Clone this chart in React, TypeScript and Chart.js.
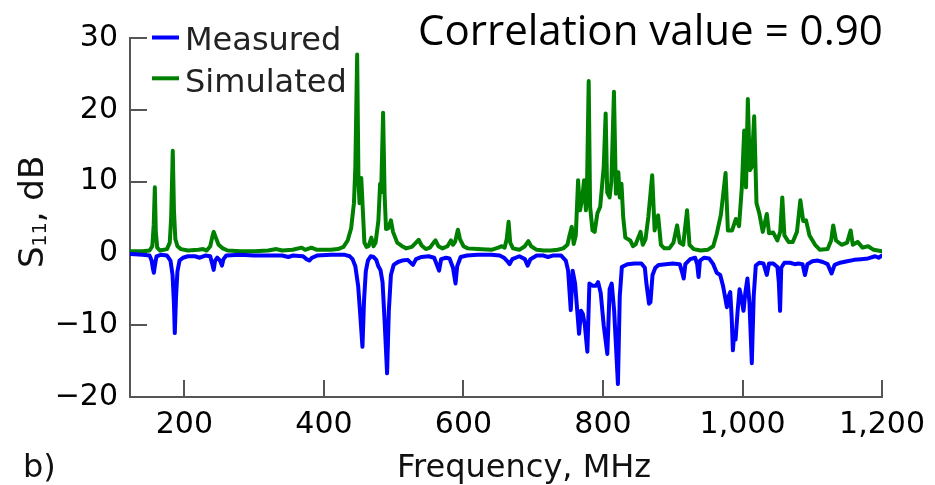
import React, { useEffect, useRef } from "react";
import { Chart, registerables } from "chart.js";

Chart.register(...registerables);

// ---------- data ----------
const seriesLabels = ["Measured", "Simulated"];
const xTickValues = [200, 400, 600, 800, 1000, 1200];
const yTickValues = [-20, -10, 0, 10, 20, 30];

const measuredFreq = [
  123, 140, 150, 153, 155, 156.2, 158, 160, 166, 175, 180, 183, 185, 186.2, 188, 190, 193, 198, 205, 215,
  222, 230, 237, 240, 241.9, 244, 247, 251, 253.8, 256, 260, 280, 300, 320, 340, 349, 355, 370, 375, 379,
  383, 390, 410, 430, 437, 441, 445, 449, 452, 455.2, 457.5, 460, 463, 467, 471, 475, 478, 481, 484, 487,
  490.5, 493, 496, 500, 506, 512, 520, 527.6, 532, 540, 550, 558, 565, 568, 575, 580, 585, 588.6, 591, 596,
  605, 620, 640, 652, 658, 663, 666, 670, 680, 688, 692, 696, 705, 715, 721, 728, 740, 746.7, 750, 753.8,
  756.5, 760, 765.7, 768.5, 771, 774, 777.6, 780.5, 785, 790, 793, 796.7, 801, 806.2, 809.5, 812.5, 816, 821.4, 824, 827,
  835, 845, 855, 860, 862, 866, 868, 871, 875, 880, 890, 900, 910, 913, 915.7, 918, 925, 932, 935, 937,
  939, 945, 952, 958, 963, 968, 972, 977.6, 980, 982.4, 984.5, 986.2, 988, 990, 993, 995.7, 998, 1001.4, 1004, 1007,
  1010, 1013.3, 1016, 1019, 1024, 1030, 1034.8, 1038, 1044, 1050, 1052, 1053.8, 1055.5, 1060, 1068, 1075, 1080, 1086, 1089.5, 1093,
  1100, 1108, 1115, 1122, 1127.6, 1132, 1140, 1150, 1160, 1170, 1180, 1190, 1195, 1200,
];
const measuredDb = [
  -0.1, -0.2, -0.3, -1.0, -2.2, -2.7, -1.5, -0.4, -0.2, -0.3, -1.0, -3.0, -7.0, -11.1, -6.0, -2.5, -1.0, -0.6, -0.4, -0.4,
  -0.6, -0.3, -0.4, -1.5, -2.3, -1.0, -0.6, -1.0, -1.7, -0.8, -0.3, -0.2, -0.3, -0.3, -0.3, -0.5, -0.3, -0.4, -0.8, -1.0,
  -0.6, -0.3, -0.2, -0.2, -0.4, -0.8, -1.8, -4.5, -8.5, -13.0, -6.5, -2.5, -1.0, -0.4, -0.5, -0.9, -1.8, -2.3, -4.0, -9.5,
  -16.7, -8.0, -3.0, -1.6, -1.2, -1.0, -0.9, -1.6, -0.8, -0.5, -0.4, -0.6, -2.4, -0.8, -0.6, -0.7, -2.0, -4.2, -1.8, -0.5,
  -0.3, -0.2, -0.2, -0.3, -0.6, -1.1, -1.5, -0.8, -0.4, -0.8, -1.7, -0.8, -0.3, -0.3, -0.5, -0.3, -0.3, -1.0, -2.4, -7.9,
  -2.4, -4.2, -11.2, -8.0, -8.4, -10.0, -13.7, -4.2, -4.5, -4.5, -4.0, -5.5, -10.0, -14.0, -5.0, -4.2, -8.0, -18.2, -6.0, -1.9,
  -1.5, -1.4, -1.4, -2.0, -4.0, -7.0, -6.8, -3.0, -2.0, -1.6, -1.5, -1.4, -1.5, -2.5, -3.5, -1.5, -0.8, -0.6, -1.5, -3.3,
  -1.0, -0.6, -0.7, -1.5, -2.7, -3.0, -4.5, -7.5, -6.0, -5.4, -9.0, -13.5, -11.0, -12.0, -8.0, -5.0, -6.0, -8.0, -5.5, -3.5,
  -7.0, -15.3, -6.0, -1.7, -1.3, -1.4, -3.0, -1.4, -1.4, -1.9, -4.0, -8.0, -2.0, -1.3, -1.3, -1.5, -1.4, -1.5, -3.0, -1.5,
  -1.1, -1.0, -1.2, -1.5, -2.8, -1.6, -1.3, -1.1, -0.9, -0.8, -0.7, -0.4, -0.6, -0.3,
];

const simulatedFreq = [
  123, 140, 150, 154, 156, 157.6, 159, 161, 165, 175, 179, 181, 183.3, 185, 187, 190, 195, 205, 220, 226.7,
  232, 237, 240, 242, 245, 249, 255, 262, 280, 300, 320, 332, 340, 355, 368, 373, 382, 390, 397, 410,
  420, 428, 434, 439, 443, 445, 447.6, 449.5, 451, 453.5, 455.5, 458, 461, 464, 468, 471, 474, 478, 480.5, 482,
  484.8, 487, 489, 492, 496, 499, 505, 512, 518, 526, 532, 535.7, 540, 546, 552, 558, 560, 564, 570, 577,
  582, 585, 588, 592, 595, 600, 606, 620, 640, 650, 655, 659, 662, 664.7, 667, 671, 680, 688, 693, 697,
  705, 715, 725, 735, 743, 749, 752, 755.2, 758, 761, 764.3, 767, 770, 772.9, 775.5, 777, 779.5, 781.5, 785, 788,
  792, 796, 801, 803.8, 806, 809.5, 812, 815.7, 818.5, 822, 824, 826.5, 829, 832, 839, 843, 847, 853.8, 857, 861,
  865, 870.5, 874, 879, 883, 888, 895, 901, 906.2, 910, 915, 920.5, 924, 930, 940, 950, 958, 963, 969, 975.7,
  979, 985, 990.5, 995, 999, 1002.4, 1005, 1007.6, 1010.5, 1013, 1016.7, 1020, 1024, 1029, 1034.8, 1038, 1044, 1050, 1054, 1057,
  1060, 1066, 1072, 1078, 1082.9, 1087, 1091, 1096, 1104, 1111, 1122, 1127, 1130, 1134, 1142, 1150, 1155, 1158, 1165, 1172,
  1180, 1188, 1200,
];
const simulatedDb = [
  0.3, 0.3, 0.4, 1.0, 4.0, 9.2, 3.0, 0.8, 0.4, 0.6, 1.5, 5.0, 14.3, 6.0, 2.0, 1.0, 0.6, 0.4, 0.5, 0.6,
  0.4, 1.0, 2.3, 3.0, 2.2, 1.2, 0.7, 0.4, 0.3, 0.3, 0.4, 0.6, 0.4, 0.5, 0.8, 0.5, 0.8, 0.5, 0.5, 0.5,
  0.6, 0.9, 1.8, 3.5, 7.0, 12.0, 27.7, 10.0, 7.0, 10.5, 6.5, 1.5, 0.9, 1.0, 2.2, 1.0, 1.5, 4.5, 9.7, 8.5,
  19.6, 8.0, 3.4, 3.5, 4.6, 3.0, 1.5, 1.0, 0.7, 0.9, 1.5, 1.9, 1.1, 0.6, 0.8, 1.6, 1.8, 1.0, 0.7, 1.0,
  1.8, 1.2, 1.6, 3.3, 2.0, 1.0, 0.7, 0.6, 0.5, 0.8, 1.0, 0.8, 2.0, 4.4, 1.5, 0.7, 0.5, 1.0, 1.7, 1.0,
  0.5, 0.4, 0.4, 0.5, 0.7, 1.2, 2.5, 3.7, 1.3, 2.5, 10.2, 6.0, 7.5, 10.2, 6.0, 9.0, 24.0, 6.5, 3.2, 3.0,
  5.6, 6.5, 12.0, 19.5, 8.5, 7.8, 10.0, 22.5, 8.3, 11.3, 7.8, 9.7, 5.0, 2.2, 1.8, 1.0, 1.3, 3.0, 1.2, 2.0,
  5.1, 10.9, 3.2, 5.3, 1.2, 0.7, 0.7, 1.5, 3.9, 1.5, 1.2, 6.0, 1.2, 0.6, 0.4, 0.5, 1.0, 2.7, 5.4, 11.2,
  3.2, 3.2, 4.8, 3.8, 9.2, 17.1, 9.2, 21.5, 11.6, 12.0, 19.1, 7.0, 5.6, 3.0, 5.5, 2.8, 2.9, 1.8, 3.0, 7.8,
  2.5, 1.6, 1.6, 3.0, 7.4, 4.5, 4.6, 2.5, 1.2, 0.5, 0.6, 1.8, 3.9, 1.8, 1.2, 1.5, 3.2, 1.2, 1.6, 0.8,
  1.0, 0.5, 0.3,
];

const titleText = "Correlation value = 0.90";
const xTitleText = "Frequency, MHz";
const panelText = "b)";

const BLUE = "#0000ff";
const GREEN = "#008000";
const AXIS = "#555555";
const SANS = "'DejaVu Sans', sans-serif";

const overlayPlugin = {
  id: "overlay",
  beforeDatasetsDraw(chart: any) {
    const ctx = chart.ctx;
    const xs = chart.scales.x;
    const ys = chart.scales.y;
    const area = chart.chartArea;
    ctx.save();
    ctx.strokeStyle = AXIS;
    ctx.lineWidth = 2;
    yTickValues.forEach((v) => {
      const py = Math.round(ys.getPixelForValue(v));
      ctx.beginPath();
      ctx.moveTo(area.left, py);
      ctx.lineTo(area.left + 17, py);
      ctx.stroke();
    });
    xTickValues.forEach((v) => {
      const px = Math.round(xs.getPixelForValue(v));
      ctx.beginPath();
      ctx.moveTo(px, area.bottom);
      ctx.lineTo(px, area.bottom - 17);
      ctx.stroke();
    });
    ctx.restore();
  },
  afterDraw(chart: any) {
    const ctx = chart.ctx;
    ctx.save();
    ctx.fillStyle = "#111111";
    ctx.textAlign = "left";
    ctx.textBaseline = "alphabetic";

    // title, fitted to its width in the reference
    ctx.font = "100px 'Open Sans', sans-serif";
    const w100 = ctx.measureText(titleText).width;
    const size = (100 * 465) / w100;
    ctx.font = `${size}px 'Open Sans', sans-serif`;
    ctx.fillStyle = "#000000";
    ctx.fillText(titleText, 418, 45);

    // legend
    const legendColors = [BLUE, GREEN];
    const legendY = [37.5, 78.3];
    const legendBase = [50, 91.5];
    ctx.lineWidth = 4;
    seriesLabels.forEach((lab, i) => {
      ctx.strokeStyle = legendColors[i];
      ctx.beginPath();
      ctx.moveTo(152, legendY[i]);
      ctx.lineTo(179, legendY[i]);
      ctx.stroke();
      ctx.fillStyle = "#222222";
      ctx.font = `32px ${SANS}`;
      ctx.fillText(lab, 185, legendBase[i]);
    });

    // x title and panel label
    ctx.fillStyle = "#111111";
    ctx.font = `32px ${SANS}`;
    ctx.fillText(xTitleText, 397, 477);
    ctx.fillText(panelText, 23, 477);

    // y title with subscript
    ctx.translate(43, 268);
    ctx.rotate(-Math.PI / 2);
    ctx.font = `34px ${SANS}`;
    ctx.fillText("S", 0, 0);
    const wS = ctx.measureText("S").width;
    ctx.font = `19px ${SANS}`;
    ctx.fillText("11", wS, 3);
    const w11 = ctx.measureText("11").width;
    ctx.font = `34px ${SANS}`;
    ctx.fillText(", dB", wS + w11, 0);
    ctx.restore();
  },
};

function toPoints(xs: number[], ys: number[]) {
  return xs.map((x, i) => ({ x, y: ys[i] }));
}

export default function App() {
  const canvasRef = useRef<HTMLCanvasElement | null>(null);

  useEffect(() => {
    document.body.style.margin = "0";
    document.body.style.overflow = "hidden";
    const canvas = canvasRef.current;
    if (!canvas) return;
    const lineStyle = {
      borderWidth: 4,
      pointRadius: 0,
      tension: 0,
      fill: false,
      borderJoinStyle: "round" as const,
      borderCapStyle: "round" as const,
    };
    const chart = new Chart(canvas, {
      type: "line",
      data: {
        datasets: [
          {
            label: seriesLabels[0],
            data: toPoints(measuredFreq, measuredDb),
            borderColor: BLUE,
            backgroundColor: BLUE,
            ...lineStyle,
          },
          {
            label: seriesLabels[1],
            data: toPoints(simulatedFreq, simulatedDb),
            borderColor: GREEN,
            backgroundColor: GREEN,
            ...lineStyle,
          },
        ],
      },
      options: {
        animation: false,
        responsive: true,
        maintainAspectRatio: false,
        parsing: false,
        layout: { padding: { top: 38, right: 51, left: 0, bottom: 0 } },
        plugins: {
          legend: { display: false },
          tooltip: { enabled: false },
          title: { display: false },
        },
        scales: {
          x: {
            type: "linear",
            min: 122,
            max: 1200,
            grid: { display: false, drawTicks: false },
            border: { display: true, color: AXIS, width: 2 },
            afterFit: (scale: any) => {
              scale.height = 88;
            },
            afterBuildTicks: (scale: any) => {
              scale.ticks = xTickValues.map((v) => ({ value: v }));
            },
            ticks: {
              autoSkip: false,
              maxRotation: 0,
              padding: 10,
              color: "#000000",
              font: { family: "'DejaVu Sans', sans-serif", size: 30 },
              callback: (v: any) => Number(v).toLocaleString("en-US"),
            },
          },
          y: {
            type: "linear",
            min: -20,
            max: 30,
            grid: { display: false, drawTicks: false },
            border: { display: true, color: AXIS, width: 2 },
            afterFit: (scale: any) => {
              scale.width = 130;
            },
            afterBuildTicks: (scale: any) => {
              scale.ticks = yTickValues.map((v) => ({ value: v }));
            },
            ticks: {
              padding: 12,
              color: "#000000",
              font: { family: "'DejaVu Sans', sans-serif", size: 30 },
              callback: (v: any) => (Number(v) < 0 ? "\u2212" + Math.abs(Number(v)) : String(v)),
            },
          },
        },
      },
      plugins: [overlayPlugin],
    });
    return () => chart.destroy();
  }, []);

  return (
    <div style={{ position: "fixed", left: 0, top: 0, width: 935, height: 485, background: "#ffffff" }}>
      <canvas ref={canvasRef} />
    </div>
  );
}
